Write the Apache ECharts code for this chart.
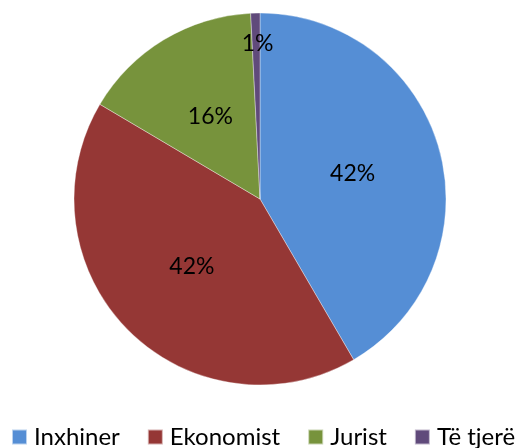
<!DOCTYPE html>
<html>
<head>
<meta charset="utf-8">
<script src="https://cdn.jsdelivr.net/npm/echarts@6/dist/echarts.min.js"></script>
<style>
  html, body { margin: 0; padding: 0; background: #fff; }
  #chart { width: 520px; height: 448px; }
</style>
</head>
<body>
<div id="chart"></div>
<script>
const categories = ['Inxhiner', 'Ekonomist', 'Jurist', 'Të tjerë']
const values = [41.6, 41.9, 15.7, 0.8]
const colors = ['#558ED5', '#953735', '#77933C', '#604A7B']

const myChart = echarts.init(document.getElementById('chart'))
const option = {
  color: colors,
  textStyle: {
    fontFamily: 'Lato, "Open Sans", sans-serif'
  },
  legend: {
    top: 425,
    left: 11,
    width: 509,
    padding: 0,
    itemWidth: 15,
    itemHeight: 15,
    itemGap: 27,
    icon: 'rect',
    textStyle: {
      fontSize: 24,
      color: '#000',
      padding: [0, 0, 0, 2]
    },
    data: categories
  },
  series: [
    {
      type: 'pie',
      center: [260, 199],
      radius: 186,
      startAngle: 90,
      clockwise: true,
      silent: true,
      itemStyle: {
        borderColor: 'rgba(255,255,255,0.6)',
        borderWidth: 0.6
      },
      label: {
        position: 'inside',
        fontSize: 23,
        color: '#000',
        formatter: function (p) {
          return Math.round(p.percent) + '%'
        }
      },
      // small slice label sits near the rim, as in the original
      labelLayout: function (p) {
        if (p.dataIndex === 3) return { dy: -59 }
      },
      data: categories.map(function (name, i) {
        return { name: name, value: values[i] }
      })
    }
  ]
}
myChart.setOption(option)
</script>
</body>
</html>
